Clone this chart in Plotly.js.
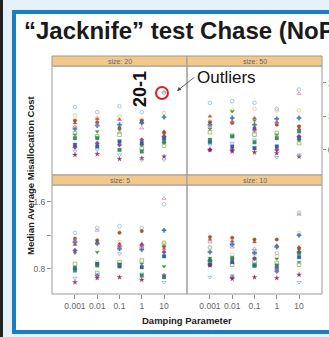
<!DOCTYPE html>
<html><head><meta charset="utf-8">
<script src="https://cdn.plot.ly/plotly-3.0.1.min.js"></script>
<style>
html,body{margin:0;padding:0;width:329px;height:337px;overflow:hidden;background:#e6f2fa;}
#bar{position:absolute;left:0;top:0;width:3px;height:337px;background:#222;}
#box{position:absolute;left:12px;top:10px;width:340px;height:316px;border:4px solid #1b7dc3;background:#fff;}
#plot{position:absolute;left:0;top:0;width:329px;height:337px;}
</style></head>
<body>
<div id="bar"></div><div id="box"></div><div id="plot"></div>
<script>
const damping = [0.001, 0.01, 0.1, 1, 10];
const tickLabels = ["0.001", "0.01", "0.1", "1", "10"];
const panelNames = ["size: 20", "size: 50", "size: 5", "size: 10"];
const seriesNames = ["A","B","C","D","E","F","G","H","I","J","K","L","M"];
const seriesColors = ["#86b3d9","#e2c07a","#cf3b2e","#8a4b22","#2f6db0","#3a8a2c","#7cb24c","#1f4f99","#7a3d94","#8a1f50","#78aedf","#c47fb2","#2a7d5a"];
const seriesSymbols = ["circle-open","circle-open","triangle-up","circle","cross","triangle-down","square-open","square","diamond","star","triangle-down-open","triangle-up-open","square"];

// values per panel: one row per series, one column per damping value
const size20 = [
  [1.31,1.25,1.32,1.25,1.48],
  [1.21,1.18,1.20,1.16,1.24],
  [1.12,1.17,1.16,1.13,1.02],
  [1.15,1.13,1.06,1.15,1.00],
  [1.05,1.09,1.10,1.12,1.19],
  [0.98,1.02,1.04,0.85,0.88],
  [1.00,0.96,0.98,0.82,0.85],
  [0.86,0.84,0.90,0.88,0.94],
  [0.83,0.88,0.86,0.92,0.96],
  [0.74,0.75,0.69,0.70,0.72],
  [0.78,0.80,0.74,0.68,0.68],
  [1.08,1.10,1.01,1.06,1.49],
  [0.94,0.94,0.80,0.78,0.90]
];
const size50 = [
  [1.36,1.38,1.36,1.29,1.52],
  [1.14,1.27,1.29,1.27,1.27],
  [1.20,1.13,1.18,1.13,1.05],
  [1.13,1.12,1.06,1.10,1.08],
  [1.10,1.18,1.10,1.17,1.18],
  [1.05,1.26,1.15,0.98,0.91],
  [1.01,0.97,0.98,1.00,0.88],
  [0.89,0.84,0.82,0.84,0.94],
  [0.80,0.80,1.04,0.80,0.96],
  [0.80,0.78,0.77,0.76,0.72],
  [0.86,0.88,0.92,0.71,0.74],
  [1.08,1.14,1.02,1.13,1.47],
  [0.92,0.96,0.89,0.94,1.02]
];
const size5 = [
  [1.23,1.29,1.31,1.29,1.57],
  [1.10,0.88,1.12,1.05,1.12],
  [1.09,1.12,1.10,1.10,1.04],
  [1.16,1.14,1.23,1.25,1.07],
  [1.12,1.10,1.04,1.03,1.26],
  [0.99,1.00,0.86,0.86,0.83],
  [0.86,0.75,0.88,0.90,1.10],
  [0.81,0.86,0.83,0.82,0.95],
  [1.02,0.72,1.07,1.08,1.00],
  [0.64,0.69,0.70,0.67,0.72],
  [0.69,0.73,0.98,0.74,0.64],
  [1.14,1.26,1.06,1.06,1.64],
  [0.78,0.84,0.85,0.72,0.70]
];
const size10 = [
  [1.05,1.10,1.01,0.99,1.47],
  [1.06,0.97,0.97,0.95,1.23],
  [1.15,1.13,1.12,1.08,1.06],
  [1.18,1.17,1.15,1.15,1.04],
  [1.00,1.09,0.99,1.06,1.20],
  [0.93,0.91,0.93,0.92,0.88],
  [0.88,0.85,0.89,0.87,0.85],
  [0.85,0.88,0.84,0.80,0.94],
  [0.90,0.70,0.92,0.77,1.00],
  [0.84,0.68,0.70,0.69,0.73],
  [0.70,0.72,0.86,0.78,0.64],
  [1.12,1.06,1.04,0.82,1.45],
  [0.90,0.93,0.84,0.84,0.99]
];
const panelData = [size20, size50, size5, size10];

const W = 329, H = 337;
const px = v => v / W, py = v => 1 - v / H;
// panel pixel boxes [x0,x1,yTop,yBottom]
const boxes = [[52,187,66,175],[187,322,66,175],[52,187,185,294],[187,322,185,294]];
const FONT = "Liberation Sans, Arial, sans-serif";
const NARROW = "Liberation Sans Narrow, Arial Narrow, Liberation Sans, Arial, sans-serif";

const traces = [];
panelData.forEach((rows, p) => {
  const ax = p === 0 ? "" : String(p + 1);
  rows.forEach((vals, s) => {
    const open = seriesSymbols[s].indexOf("open") >= 0;
    traces.push({
      type: "scatter", mode: "markers",
      x: damping, y: vals, xaxis: "x" + ax, yaxis: "y" + ax,
      name: seriesNames[s], showlegend: false, hoverinfo: "skip",
      marker: {symbol: seriesSymbols[s], size: 3.6, color: seriesColors[s], opacity: 0.9,
               line: {color: seriesColors[s], width: open ? 0.8 : 0.3}}
    });
  });
});

const layout = {
  width: W, height: H, margin: {l:0, r:0, t:0, b:0},
  paper_bgcolor: "rgba(0,0,0,0)", plot_bgcolor: "#fff",
  font: {family: FONT}, showlegend: false,
  shapes: [], annotations: []
};

boxes.forEach((b, p) => {
  const ax = p === 0 ? "" : String(p + 1);
  const bottom = p >= 2;
  layout["xaxis" + ax] = {
    type: "log", range: [-4.03, 2.03], domain: [px(b[0]), px(b[1])],
    anchor: "y" + ax, showgrid: false, zeroline: false, showline: false,
    tickvals: damping, ticktext: tickLabels,
    showticklabels: bottom, ticks: bottom ? "outside" : "", ticklen: 4, tickcolor: "#777", tickwidth: 0.8,
    tickfont: {family: NARROW, size: 8.5, color: "#666"}
  };
  let yt = {range: [0.5, 1.8], domain: [py(b[3]), py(b[2])], anchor: "x" + ax,
    showgrid: false, zeroline: false, showline: false, tickvals: [0.8, 1.2, 1.6],
    ticklen: 3, tickcolor: "#777", tickwidth: 0.8,
    tickfont: {family: NARROW, size: 8.5, color: "#666"}};
  if (p === 2) { yt.ticks = "outside"; yt.ticklen = 4; yt.ticktext = ["0.8", "", "1.6"]; yt.showticklabels = true; yt.side = "left"; }
  else if (p === 1) { yt.ticks = "outside"; yt.ticktext = ["0.8", "1.2", "1.6"]; yt.showticklabels = true; yt.side = "right"; yt.ticklabelstandoff = 0; }
  else { yt.ticks = ""; yt.showticklabels = false; }
  layout["yaxis" + ax] = yt;
  // panel frame
  layout.shapes.push({type: "rect", xref: "paper", yref: "paper", x0: px(b[0]), x1: px(b[1]), y0: py(b[3]), y1: py(b[2]),
    line: {color: "#9a9a9a", width: 1}, fillcolor: "rgba(0,0,0,0)"});
  // strip
  layout.shapes.push({type: "rect", xref: "paper", yref: "paper", x0: px(b[0]), x1: px(b[1]), y0: py(b[2]), y1: py(b[2] - 10),
    line: {color: "#9a9a9a", width: 1}, fillcolor: "#f3c98b"});
  layout.annotations.push({xref: "paper", yref: "paper", x: px((b[0] + b[1]) / 2), y: py(b[2] - 5),
    text: panelNames[p], showarrow: false, font: {family: NARROW, size: 7, color: "#666"}, xanchor: "center", yanchor: "middle"});
});

// red circle around outlier
layout.shapes.push({type: "circle", xref: "paper", yref: "paper", x0: px(156), x1: px(168), y0: py(99), y1: py(87),
  line: {color: "#e02020", width: 2}});

layout.annotations.push(
  {xref: "paper", yref: "paper", x: px(22), y: py(31), xanchor: "left", yanchor: "middle",
   text: "<b>“Jacknife” test Chase (NoPM)</b>", showarrow: false, font: {family: FONT, size: 24, color: "#1a1a1a"}},
  {xref: "paper", yref: "paper", x: px(30), y: py(175), xanchor: "center", yanchor: "middle", textangle: -90,
   text: "<b>Median Average Misallocation Cost</b>", showarrow: false, font: {family: NARROW, size: 9.5, color: "#222"}},
  {xref: "paper", yref: "paper", x: px(187), y: py(320), xanchor: "center", yanchor: "middle",
   text: "<b>Damping Parameter</b>", showarrow: false, font: {family: NARROW, size: 9.5, color: "#222"}},
  {xref: "paper", yref: "paper", x: px(140), y: py(89), xanchor: "center", yanchor: "middle", textangle: -90,
   text: "<b>20-1</b>", showarrow: false, font: {family: FONT, size: 18, color: "#111"}},
  {xref: "paper", yref: "paper", x: px(195), y: py(77), xanchor: "left", yanchor: "middle",
   text: "Outliers", showarrow: false, font: {family: FONT, size: 17, color: "#111"}},
  {xref: "paper", yref: "paper", x: px(177), y: py(91), text: "", showarrow: true, ax: 19, ay: -15,
   arrowhead: 2, arrowsize: 1, arrowwidth: 0.8, arrowcolor: "#444", standoff: 0}
);

Plotly.newPlot("plot", traces, layout, {displayModeBar: false, staticPlot: true});
</script>
</body></html>
